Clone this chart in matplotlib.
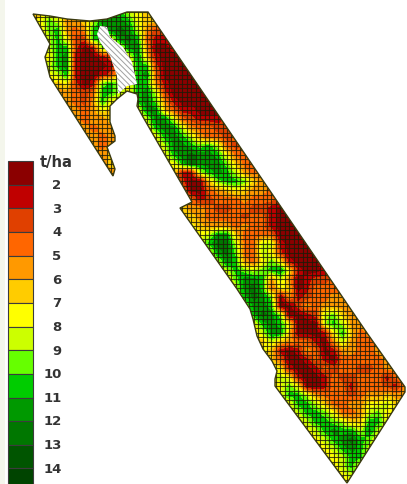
import numpy as np
import pandas as pd
import matplotlib
matplotlib.use("Agg")
import matplotlib.pyplot as plt
from matplotlib.colors import ListedColormap, BoundaryNorm
from matplotlib.patches import Polygon, Rectangle

# legend classes, darkest red (low yield) to darkest green
class_labels = ["2", "3", "4", "5", "6", "7", "8", "9", "10", "11", "12", "13", "14"]
class_colors = ["#8b0000", "#c00000", "#e04000", "#ff6600", "#ff9900", "#ffcc00", "#ffff00",
                "#ccff00", "#66ff00", "#00cc00", "#009900", "#007700", "#005500", "#004400"]

# yield class per block (hex digit = class number, . = no data)
yield_rows = [
    "",
    "...668666778aa876",
    "...67985568bbba766",
    "...669a545aabcb8533",
    "....68a733aa7bca4223",
    "....78aa312977bb51123",
    "....77ab2112377b621112",
    "....78ab2111247aa311113",
    ".....78a2112377ab411112",
    ".....7673129a87aa5211113",
    "......55434aa87ab8311112",
    "......55435a7..ab95211113",
    ".......554576..7bb64221113",
    ".......554556...8bb84322234",
    "........55455...7abb8544334",
    ".........55455...7aba8544345",
    "..........545....78bba9a8434",
    "..........556.....7abcbba7445",
    "...........56.....77acbbb96445",
    "............5......7228aba8545",
    "....................31169aa9655",
    "....................411456765544",
    "....................642344454443",
    "....................6554334433213",
    "....................66544443442114",
    ".....................76555454421125",
    ".....................778bb644441113",
    "......................7acc8448821113",
    ".......................7bc94487311125",
    ".......................78ba5479721113",
    "........................78a989ab721125",
    ".........................79bba58512334",
    ".........................78bca47612444",
    "..........................8acb915234455",
    "..........................78bba11354555",
    "...........................7acb911238965",
    "...........................77aba71118a855",
    "............................68bb611127a645",
    "............................668654421585445",
    ".............................76212541255445",
    ".............................764112421444445",
    "..............................77211243443345",
    "..............................787211243344424",
    "..............................7797112442444325",
    "..............................77aa854443455655",
    "...............................77aa8644557786",
    "................................78aa97445897",
    ".................................78aa9866aa7",
    ".................................778abaa8b8",
    "..................................778abca97",
    "...................................778aba8",
    "....................................778aa7",
    ".....................................78a7",
    ".....................................7787",
    "......................................77",
]

# field outline and the unharvested patch, traced in image pixels
field_x = [33, 50, 67, 90, 107, 127, 148, 367, 405, 405, 347, 275, 275, 277, 272, 263, 257, 253, 250, 237,
           180, 192, 143, 137, 138, 137, 127, 117, 110, 110, 115, 115, 107, 115, 113, 50, 45, 50]
field_y = [15, 17, 20, 22, 20, 13, 13, 334, 388, 393, 484, 387, 380, 372, 362, 350, 337, 320, 310, 290,
           209, 203, 118, 107, 100, 95, 92, 100, 107, 123, 137, 142, 148, 170, 177, 78, 58, 45]
patch_x = [100, 107, 110, 123, 132, 137, 127, 118, 117, 110, 100, 97]
patch_y = [27, 28, 38, 48, 63, 85, 87, 95, 77, 57, 43, 35]

W, H = 407, 485
CELL = 4.45

fig = plt.figure(figsize=(W / 100, H / 100), dpi=100)
ax = fig.add_axes([0, 0, 1, 1])

# pale strip at the page edge
ax.add_patch(Rectangle((0, 0), 5, H, fc="#f4f6ec", ec="none"))

# map blocks, edge gaps filled along the row so the smoothing has something to work with
n_cols = 46
grid = np.full((len(yield_rows), n_cols), np.nan)
for r, row in enumerate(yield_rows):
    for c, ch in enumerate(row):
        if ch != ".":
            grid[r, c] = int(ch, 16)
filled = pd.DataFrame(grid).ffill(axis=1).bfill(axis=1).bfill(axis=0).to_numpy()

cmap = ListedColormap(class_colors)
norm = BoundaryNorm(np.arange(0.5, len(class_colors) + 1), cmap.N)
xmax = n_cols * CELL * 2
ymax = len(yield_rows) * CELL * 2
mesh = ax.imshow(filled, cmap=cmap, norm=norm, extent=(0, xmax, ymax, 0), aspect="auto",
                 interpolation="bilinear", zorder=2)

field = Polygon(np.column_stack([field_x, field_y]), closed=True, fc="none", ec="#3a3a10", lw=1.0, zorder=5)
ax.add_patch(field)
mesh.set_clip_path(field)

# survey grid on top of the colours
vl = ax.vlines(np.arange(0, W, CELL), 0, H, color="#1c1c08", lw=0.8, alpha=0.8, zorder=3)
hl = ax.hlines(np.arange(0, H, CELL), 0, W, color="#1c1c08", lw=0.8, alpha=0.8, zorder=3)
vl.set_clip_path(field)
hl.set_clip_path(field)

plt.rcParams["hatch.linewidth"] = 0.7
ax.add_patch(Polygon(np.column_stack([patch_x, patch_y]), closed=True, fc="white", ec="#a0a0a0",
                     hatch="\\\\\\\\\\\\", lw=0, zorder=4))

# legend swatches
top, step = 162, 23.65
for i, col in enumerate(class_colors):
    y0 = top + i * step
    ax.add_patch(Rectangle((8, y0), 25, step, fc=col, ec="#3c3c3c", lw=0.8, zorder=2))

ax.text(56.5, 163, "t/ha", ha="center", va="center", fontsize=10.5, fontweight="bold", color="#333333")
for i, lab in enumerate(class_labels):
    ax.text(61.5, 185.5 + i * step, lab, ha="right", va="center", fontsize=9.5,
            fontweight="bold", color="#333333")

ax.set_xlim(0, W)
ax.set_ylim(H, 0)
ax.axis("off")

fig.savefig("out.png", dpi=100)
